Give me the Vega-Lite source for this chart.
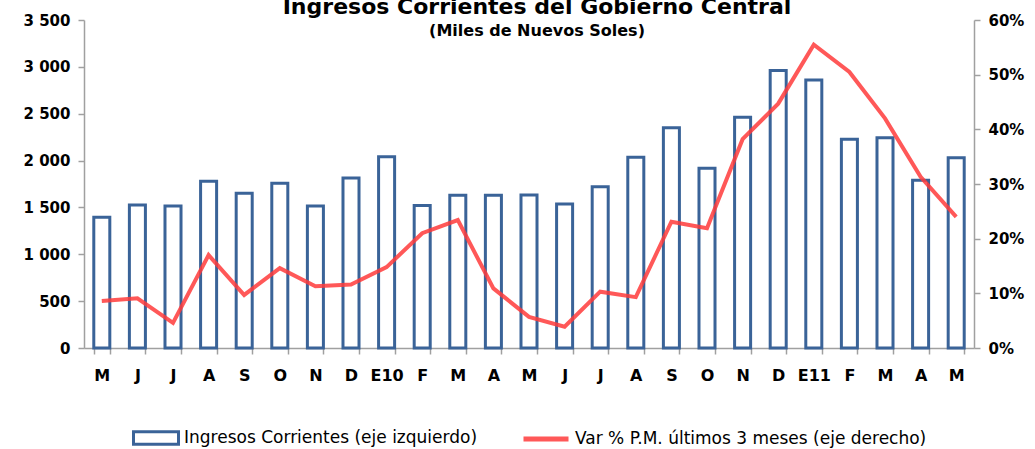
{
  "$schema": "https://vega.github.io/schema/vega-lite/v6.json",
  "width": 890,
  "height": 328,
  "autosize": {"type": "none"},
  "padding": {"left": 84, "top": 20, "right": 61, "bottom": 101},
  "background": "white",
  "title": {
    "text": "Ingresos Corrientes del Gobierno Central",
    "subtitle": "(Miles de Nuevos Soles)",
    "anchor": "middle",
    "frame": "group",
    "dx": 8,
    "offset": -27,
    "font": "DejaVu Sans",
    "fontSize": 22,
    "fontWeight": "bold",
    "color": "black",
    "subtitleFont": "DejaVu Sans",
    "subtitleFontSize": 16,
    "subtitleFontWeight": "bold",
    "subtitleColor": "black",
    "subtitlePadding": 4
  },
  "data": {
    "values": [
      {"k": "M|1", "ing": 1395, "var": 0.086},
      {"k": "J|2", "ing": 1526, "var": 0.091},
      {"k": "J|3", "ing": 1515, "var": 0.046},
      {"k": "A|4", "ing": 1780, "var": 0.170},
      {"k": "S|5", "ing": 1652, "var": 0.097},
      {"k": "O|6", "ing": 1758, "var": 0.146},
      {"k": "N|7", "ing": 1515, "var": 0.113},
      {"k": "D|8", "ing": 1815, "var": 0.116},
      {"k": "E10|9", "ing": 2040, "var": 0.148},
      {"k": "F|10", "ing": 1520, "var": 0.210},
      {"k": "M|11", "ing": 1630, "var": 0.234},
      {"k": "A|12", "ing": 1630, "var": 0.109},
      {"k": "M|13", "ing": 1633, "var": 0.057},
      {"k": "J|14", "ing": 1537, "var": 0.039},
      {"k": "J|15", "ing": 1721, "var": 0.103},
      {"k": "A|16", "ing": 2035, "var": 0.093},
      {"k": "S|17", "ing": 2351, "var": 0.231},
      {"k": "O|18", "ing": 1918, "var": 0.219},
      {"k": "N|19", "ing": 2462, "var": 0.382},
      {"k": "D|20", "ing": 2960, "var": 0.447},
      {"k": "E11|21", "ing": 2860, "var": 0.555},
      {"k": "F|22", "ing": 2227, "var": 0.505},
      {"k": "M|23", "ing": 2244, "var": 0.420},
      {"k": "A|24", "ing": 1790, "var": 0.313},
      {"k": "M|25", "ing": 2031, "var": 0.240}
    ]
  },
  "encoding": {
    "x": {
      "field": "k",
      "type": "nominal",
      "sort": null,
      "scale": {"paddingInner": 0.55, "paddingOuter": 0.275},
      "axis": {
        "title": null,
        "labelExpr": "isString(datum.value) ? split(datum.value, '|')[0] : ''",
        "labelAngle": 0,
        "labelFont": "DejaVu Sans",
        "labelFontSize": 16,
        "labelFontWeight": "bold",
        "labelColor": "black",
        "labelPadding": 13,
        "tickBand": "extent",
        "tickSize": 6,
        "tickColor": "#A0A0A0",
        "domainColor": "#A0A0A0",
        "domainWidth": 1.5,
        "tickWidth": 1.5
      }
    }
  },
  "layer": [
    {
      "mark": {"type": "bar", "fill": "white", "strokeWidth": 3, "strokeJoin": "miter"},
      "encoding": {
        "y": {
          "field": "ing",
          "type": "quantitative",
          "scale": {"domain": [0, 3500], "nice": false},
          "axis": {
            "title": null,
            "values": [0, 500, 1000, 1500, 2000, 2500, 3000, 3500],
            "labelExpr": "replace(format(datum.value, ','), ',', ' ')",
            "grid": false,
            "labelFont": "DejaVu Sans",
            "labelFontSize": 15,
            "labelFontWeight": "bold",
            "labelColor": "black",
            "labelPadding": 8,
            "tickSize": 6,
            "tickWidth": 1.5,
            "tickColor": "#A0A0A0",
            "domainColor": "#A0A0A0",
            "domainWidth": 1.5
          }
        },
        "stroke": {
          "datum": "Ingresos Corrientes (eje izquierdo)",
          "type": "nominal",
          "scale": {"range": ["#3A6398"]},
          "legend": {
            "title": null,
            "orient": "none",
            "legendX": 48,
            "legendY": 394,
            "labelFont": "DejaVu Sans",
            "labelFontSize": 17,
            "labelColor": "black",
            "symbolType": "M-1,-0.28H1V0.28H-1Z",
            "symbolSize": 2025,
            "symbolStrokeWidth": 3,
            "symbolFillColor": "white",
            "labelOffset": 4,
            "labelLimit": 450
          }
        }
      }
    },
    {
      "mark": {"type": "line", "strokeWidth": 4, "opacity": 0.85},
      "encoding": {
        "y": {
          "field": "var",
          "type": "quantitative",
          "scale": {"domain": [0, 0.6], "nice": false},
          "axis": {
            "title": null,
            "orient": "right",
            "format": ".0%",
            "values": [0, 0.1, 0.2, 0.3, 0.4, 0.5, 0.6],
            "grid": false,
            "labelFont": "DejaVu Sans",
            "labelFontSize": 15,
            "labelFontWeight": "bold",
            "labelColor": "black",
            "labelPadding": 8,
            "tickSize": 6,
            "tickWidth": 1.5,
            "tickColor": "#A0A0A0",
            "domainColor": "#A0A0A0",
            "domainWidth": 1.5
          }
        },
        "color": {
          "datum": "Var % P.M. últimos 3 meses (eje derecho)",
          "type": "nominal",
          "scale": {"range": ["#FF3B3B"]},
          "legend": {
            "title": null,
            "orient": "none",
            "legendX": 437,
            "legendY": 394,
            "labelFont": "DejaVu Sans",
            "labelFontSize": 17,
            "labelColor": "black",
            "symbolType": "stroke",
            "symbolSize": 2025,
            "symbolStrokeWidth": 5,
            "labelOffset": 4,
            "labelLimit": 500
          }
        }
      }
    }
  ],
  "resolve": {"scale": {"y": "independent"}},
  "config": {"view": {"stroke": null}}
}
